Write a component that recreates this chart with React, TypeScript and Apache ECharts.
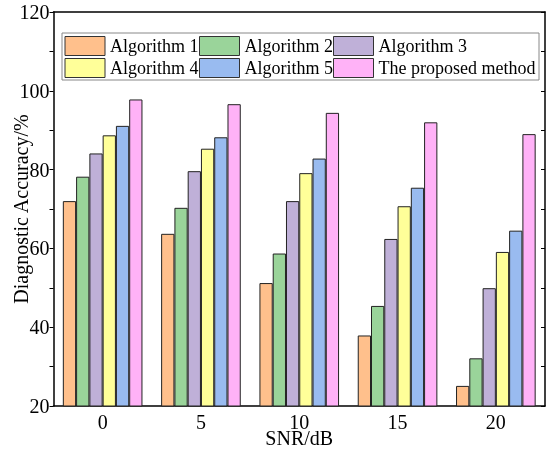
import React, { useEffect, useRef } from "react";
import * as echarts from "echarts";

const categories = ["0", "5", "10", "15", "20"];
const seriesNames = ["Algorithm 1", "Algorithm 2", "Algorithm 3", "Algorithm 4", "Algorithm 5", "The proposed method"];
const algorithm1 = [72.0, 63.7, 51.2, 37.9, 25.1];
const algorithm2 = [78.2, 70.3, 58.7, 45.4, 32.1];
const algorithm3 = [84.1, 79.6, 72.0, 62.4, 49.9];
const algorithm4 = [88.7, 85.3, 79.1, 70.7, 59.1];
const algorithm5 = [91.1, 88.2, 82.8, 75.4, 64.5];
const proposed = [97.8, 96.6, 94.4, 92.0, 89.0];
const colors = ["#FFC08C", "#9AD49A", "#BFB0D8", "#FFFF99", "#99BBF0", "#FFB2F7"];

const FONT = '"Liberation Serif", "Times New Roman", serif';

export default function App() {
  const ref = useRef<HTMLDivElement>(null);
  useEffect(() => {
    if (!ref.current) return;
    const chart = echarts.init(ref.current, null, { renderer: "svg" });
    const values = [algorithm1, algorithm2, algorithm3, algorithm4, algorithm5, proposed];
    const legendPos = [
      [64.5, 36], [199, 36], [333, 36],
      [64.5, 58], [199, 58], [333, 58],
    ];
    const grid = { left: 53.5, right: 5, top: 12, bottom: 45, containLabel: false, outerBoundsMode: "none" };
    chart.setOption({
      animation: false,
      textStyle: { fontFamily: FONT },
      grid,
      legend: seriesNames.map((n, i) => ({
        data: [n],
        left: legendPos[i][0],
        top: legendPos[i][1],
        padding: 0,
        itemWidth: 40,
        itemHeight: 19,
        itemGap: 0,
        selectedMode: false,
        icon: "rect",
        itemStyle: { borderColor: "#333", borderWidth: 1 },
        textStyle: { fontFamily: FONT, fontSize: 18, color: "#000" },
      })),
      graphic: [
        {
          type: "rect",
          shape: { x: 62, y: 33, width: 477, height: 47 },
          style: { fill: "none", stroke: "#888", lineWidth: 1 },
          z: 10,
        },
      ],
      xAxis: [
        {
          type: "category",
          data: categories,
          position: "bottom",
          name: "SNR/dB",
          nameLocation: "middle",
          nameGap: 24,
          nameMoveOverlap: false,
          nameTextStyle: { fontFamily: FONT, fontSize: 20, lineHeight: 16, color: "#000" },
          axisLine: { lineStyle: { color: "#000", width: 1.5 } },
          axisTick: { inside: true, length: 3, lineStyle: { color: "#000" } },
          axisLabel: { fontFamily: FONT, fontSize: 20, lineHeight: 16, color: "#000", margin: 8 },
        },
        {
          type: "category",
          data: categories,
          position: "top",
          axisLine: { lineStyle: { color: "#000", width: 1.5 } },
          axisTick: { inside: true, length: 6, alignWithLabel: true, lineStyle: { color: "#000" } },
          axisLabel: { show: false },
        },
        {
          type: "category",
          data: categories,
          position: "top",
          axisLine: { show: false },
          axisTick: { inside: true, length: 4, lineStyle: { color: "#000" } },
          axisLabel: { show: false },
        },
      ],
      yAxis: [
        {
          type: "value",
          min: 20,
          max: 120,
          interval: 20,
          position: "left",
          name: "Diagnostic Accuracy/%",
          nameLocation: "middle",
          nameGap: 23,
          nameMoveOverlap: false,
          nameTextStyle: { fontFamily: FONT, fontSize: 20, color: "#000" },
          axisLine: { show: true, lineStyle: { color: "#000", width: 1.5 } },
          axisTick: { show: true, inside: false, length: 4, lineStyle: { color: "#000" } },
          minorTick: { show: true, splitNumber: 2, length: 4, lineStyle: { color: "#000" } },
          axisLabel: { fontFamily: FONT, fontSize: 20, color: "#000", margin: 4 },
          splitLine: { show: false },
        },
        {
          type: "value",
          min: 20,
          max: 120,
          interval: 20,
          position: "right",
          axisLine: { show: true, lineStyle: { color: "#000", width: 1.5 } },
          axisTick: { show: true, inside: true, length: 4, lineStyle: { color: "#000" } },
          minorTick: { show: true, splitNumber: 2, length: 4, lineStyle: { color: "#000" } },
          axisLabel: { show: false },
          splitLine: { show: false },
        },
      ],
      series: seriesNames.map((n, i) => ({
        name: n,
        type: "bar",
        xAxisIndex: 0,
        yAxisIndex: 0,
        data: values[i],
        barGap: "0%",
        barCategoryGap: "19%",
        itemStyle: { color: colors[i], borderColor: "#222", borderWidth: 1 },
      })),
    });
    return () => chart.dispose();
  }, []);
  return (
    <div
      ref={ref}
      style={{ position: "fixed", left: 0, top: 0, width: 550, height: 451 }}
    />
  );
}
